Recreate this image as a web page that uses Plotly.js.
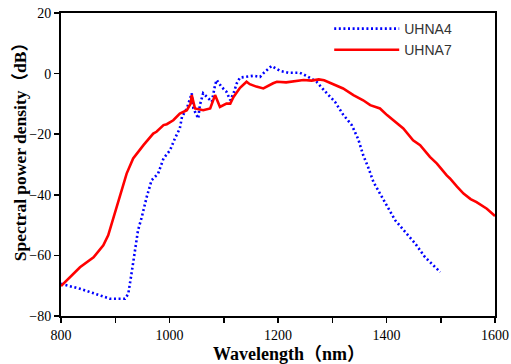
<!DOCTYPE html>
<html>
<head>
<meta charset="utf-8">
<script src="https://cdn.plot.ly/plotly-3.0.1.min.js"></script>
<style>html,body{margin:0;padding:0;background:#fff;}#chart{width:511px;height:364px;}</style>
</head>
<body>
<div id="chart"></div>
<script>
// UHNA4 (blue dotted)
const uhna4Wavelength = [800, 835, 872, 890, 918, 924, 930, 936, 942, 949, 958, 967, 979, 989, 1001, 1010, 1019, 1023, 1032, 1041, 1044, 1053, 1056, 1062, 1069, 1078, 1084, 1087, 1096, 1105, 1112, 1118, 1124, 1130, 1139, 1155, 1167, 1173, 1188, 1204, 1219, 1240, 1253, 1271, 1290, 1305, 1320, 1336, 1348, 1357, 1366, 1376, 1388, 1400, 1416, 1437, 1453, 1471, 1486, 1499];
const uhna4Power = [-69.4, -71, -73.2, -74.3, -74.3, -72.7, -66, -59.4, -51.7, -47.3, -40.7, -35.2, -33, -28, -25.3, -21.4, -18.1, -14.3, -11.5, -6.5, -11.5, -14.8, -10.4, -6.5, -7.7, -9.3, -3.8, -2.1, -4.4, -6.0, -8.8, -6.5, -3.2, -1.3, -1.1, -0.7, -1.1, 0.1, 2.5, 0.9, 0.3, 0.3, -0.8, -2.7, -6.5, -9.3, -13.5, -17, -21.7, -26.9, -30.8, -35.8, -39.6, -43.5, -48.4, -52.8, -56.1, -60.6, -63.3, -65.5];
// UHNA7 (red solid)
const uhna7Wavelength = [800, 817, 835, 860, 878, 887, 897, 909, 921, 933, 946, 952, 970, 976, 989, 995, 1007, 1019, 1032, 1039, 1041, 1047, 1062, 1075, 1084, 1093, 1105, 1112, 1118, 1130, 1142, 1148, 1160, 1173, 1191, 1198, 1215, 1235, 1247, 1262, 1275, 1285, 1296, 1308, 1320, 1339, 1357, 1370, 1388, 1401, 1419, 1431, 1449, 1462, 1480, 1493, 1511, 1517, 1530, 1542, 1555, 1566, 1585, 1597, 1600];
const uhna7Power = [-70.1, -67.2, -63.9, -60.6, -56.7, -53.4, -47.3, -40.7, -33, -28, -24.7, -23.6, -19.8, -19.2, -17, -16.7, -15.4, -13.2, -12.1, -9.9, -7.1, -11.5, -12.1, -11.5, -7.1, -11, -9.9, -9.9, -7.7, -4.7, -2.7, -3.5, -4.3, -4.9, -3.2, -2.7, -2.9, -2.4, -2.1, -2.3, -1.9, -2.2, -3.0, -3.8, -4.9, -7.1, -8.8, -10.4, -11.5, -13.7, -16.5, -18.1, -22, -23.6, -27.5, -29.7, -33.6, -34.6, -37.3, -39.6, -41.4, -42.4, -44.6, -46.8, -47];
const xTickVals = [800, 1000, 1200, 1400, 1600];
const yTickVals = [-80, -60, -40, -20, 0, 20];
const xTitle = 'Wavelength（nm）';
const yTitle = 'Spectral power density（dB）';

const serif = 'Liberation Serif, Times New Roman, Noto Sans CJK SC, serif';
const data = [
  {x: uhna4Wavelength, y: uhna4Power, name: 'UHNA4', type: 'scatter', mode: 'lines',
   line: {color: '#0000ff', width: 2.6, dash: '2px,2.6px'}},
  {x: uhna7Wavelength, y: uhna7Power, name: 'UHNA7', type: 'scatter', mode: 'lines',
   line: {color: '#ff0000', width: 2.6}}
];
const layout = {
  width: 511, height: 364,
  margin: {l: 61, r: 16, t: 13, b: 48},
  paper_bgcolor: '#ffffff', plot_bgcolor: '#ffffff',
  showlegend: true,
  legend: {x: 0.618, y: 1.0, xanchor: 'left', yanchor: 'top', bgcolor: 'rgba(0,0,0,0)',
           font: {family: 'Liberation Sans, Arial, sans-serif', size: 14, color: '#333333'},
           itemwidth: 65, tracegroupgap: 6},
  xaxis: {range: [800, 1600], tickvals: xTickVals, ticks: 'outside', ticklen: 5, tickwidth: 1.5,
          tickcolor: '#000', showline: true, linecolor: '#000', linewidth: 2, mirror: true,
          showgrid: false, zeroline: false,
          minor: {dtick: 100, tick0: 800, ticks: 'outside', ticklen: 5, tickwidth: 1.5, tickcolor: '#000', showgrid: false},
          tickfont: {family: serif, size: 14, color: '#000'}},
  yaxis: {range: [-80, 20], tickvals: yTickVals, ticks: 'outside', ticklen: 5, tickwidth: 1.5,
          tickcolor: '#000', showline: true, linecolor: '#000', linewidth: 2, mirror: true,
          showgrid: false, zeroline: false,
          tickfont: {family: serif, size: 14, color: '#000'}},
  annotations: [
    {text: '<b>' + xTitle + '</b>', xref: 'paper', yref: 'paper', x: 0.525, y: -0.124,
     xanchor: 'center', yanchor: 'middle', showarrow: false,
     font: {family: serif, size: 18, color: '#000'}},
    {text: '<b>' + yTitle + '</b>', xref: 'paper', yref: 'paper', x: -0.0945, y: 0.557,
     xanchor: 'center', yanchor: 'middle', showarrow: false, textangle: -90,
     font: {family: serif, size: 17.5, color: '#000'}}
  ]
};
Plotly.newPlot('chart', data, layout, {staticPlot: true, displayModeBar: false});
</script>
</body>
</html>
